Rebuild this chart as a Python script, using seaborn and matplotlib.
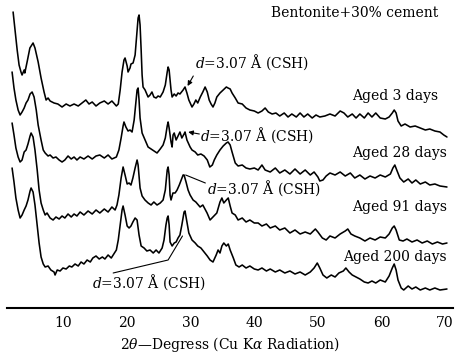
import matplotlib
matplotlib.use("Agg")
import matplotlib.pyplot as plt
import seaborn as sns
import pandas as pd

# ---- data: (2theta [deg], relative intensity [arb.]) ----
aged_3_days = [(2.06,93),(2.37,75),(2.7,55),(3.0,40),(3.3,33),(3.47,30),(3.8,35),(3.9,32),(4.26,43),(4.7,57),
 (5.2,62),(5.5,57),(6.0,43),(6.46,27),(6.93,13),(7.25,5),(7.56,7),(7.88,4),(8.5,2),(9.1,1),(9.76,-2),(10.4,1),
 (11.0,-1),(11.65,1),(12.3,-1),(12.9,2),(13.5,5),(14.0,1),(14.5,3),(15.1,-1),(15.7,2),(16.4,4),(17.0,1),(17.6,4),
 (18.3,-1),(18.6,1),(18.9,15),(19.2,33),(19.5,45),(19.67,47),(20.0,39),(20.14,33),(20.45,37),(20.6,41),(20.93,42),
 (21.25,50),(21.56,75),(21.72,87),(21.87,90),(22.03,80),(22.2,55),(22.35,30),(22.5,18),(22.82,15),(23.29,8),(23.6,10),
 (23.9,13),(24.2,8),(24.55,7),(24.86,9),(25.2,8),(25.65,13),(26.0,20),(26.3,33),(26.44,38),(26.6,35),(26.9,15),
 (27.07,8),(27.4,11),(27.7,9),(28.0,12),(28.3,11),(28.8,15),(29.1,18),(29.4,12),(29.7,5),(30.2,-2),(30.5,1),(30.8,5),
 (31.1,2),(31.5,8),(31.9,13),(32.26,18),(32.6,13),(32.9,5),(33.2,1),(33.5,-2),(33.8,2),(34.1,8),(34.6,12),(35.1,15),
 (35.6,18),(35.87,17),(36.2,16),(36.5,12),(37.0,7),(37.45,2),(38.1,1),(38.7,-3),(39.3,-5),(40.0,-6),(40.6,-8),
 (41.2,-6),(41.7,-3),(42.2,-7),(42.8,-9),(43.4,-8),(44.0,-11),(44.7,-8),(45.3,-12),(45.9,-9),(46.6,-12),(47.2,-8),
 (47.8,-12),(48.4,-9),(49.1,-13),(49.7,-10),(50.3,-12),(51.1,-11),(51.9,-9),(52.7,-11),(53.5,-6),(54.1,-8),(54.7,-12),
 (55.4,-9),(56.0,-13),(56.6,-9),(57.3,-13),(57.9,-8),(58.5,-12),(59.1,-8),(59.8,-13),(60.6,-14),(61.2,-12),(61.7,-8),
 (62.0,-5),(62.3,-8),(62.6,-16),(63.1,-21),(63.7,-19),(64.5,-22),(65.3,-21),(66.1,-23),(66.9,-25),(67.6,-24),
 (68.4,-26),(69.2,-27),(69.8,-30),(70.3,-32)]

aged_28_days = [(1.9,86),(2.2,70),(2.5,58),(2.85,48),(3.16,43),(3.47,46),(3.8,50),(4.1,55),(4.4,58),(4.73,64),
 (5.05,66),(5.36,61),(5.7,48),(6.0,33),(6.46,18),(6.8,8),(7.1,5),(7.56,2),(7.88,3),(8.35,0),(8.8,1),(9.3,-2),(9.76,-4),
 (10.2,-2),(10.7,2),(11.2,-1),(11.65,1),(12.1,-2),(12.6,1),(13.2,-1),(13.85,2),(14.5,-1),(15.1,2),(15.7,3),(16.4,0),
 (17.0,3),(17.6,-1),(18.3,1),(18.7,8),(19.05,20),(19.36,32),(19.5,36),(19.8,31),(20.14,27),(20.45,28),(20.77,26),
 (21.1,38),(21.4,58),(21.56,68),(21.72,70),(21.87,58),(22.03,40),(22.35,25),(22.82,18),(23.29,11),(23.76,9),(24.2,7),
 (24.7,5),(25.2,9),(25.65,13),(26.0,20),(26.3,32),(26.44,36),(26.6,30),(26.9,16),(27.07,11),(27.22,23),(27.4,25),
 (27.7,18),(28.0,22),(28.3,26),(28.6,20),(28.95,24),(29.1,26),(29.4,18),(29.9,11),(30.2,8),(30.7,6),(31.1,3),(31.6,4),
 (32.1,2),(32.6,-2),(33.0,-9),(33.4,-7),(33.7,-2),(34.1,3),(34.6,8),(35.1,12),(35.6,15),(35.87,16),(36.2,13),(36.5,6),
 (37.0,-5),(37.45,-8),(38.1,-7),(38.7,-10),(39.3,-11),(40.0,-10),(40.6,-12),(41.2,-7),(41.7,-12),(42.5,-14),
 (43.3,-10),(44.0,-15),(44.8,-12),(45.6,-16),(46.4,-11),(47.2,-16),(48.0,-12),(48.8,-17),(49.4,-14),(50.0,-19),
 (50.3,-23),(50.8,-22),(51.3,-18),(51.9,-15),(52.7,-17),(53.5,-14),(54.3,-18),(55.1,-15),(55.8,-20),(56.6,-17),
 (57.4,-21),(58.2,-18),(59.0,-20),(59.8,-17),(60.6,-19),(61.4,-16),(61.8,-10),(62.1,-7),(62.4,-12),(62.9,-20),
 (63.5,-24),(64.2,-21),(64.8,-25),(65.4,-22),(66.1,-26),(66.9,-24),(67.6,-27),(68.4,-26),(69.2,-28),(70.3,-29)]

aged_91_days = [(1.9,92),(2.2,80),(2.5,67),(2.85,58),(3.16,53),(3.47,55),(3.8,63),(4.1,65),(4.4,71),(4.73,79),
 (4.89,82),(5.2,78),(5.5,65),(5.85,45),(6.15,25),(6.46,12),(6.8,5),(7.1,0),(7.4,2),(7.88,-3),(8.35,-5),(8.8,-2),
 (9.3,-4),(9.76,-1),(10.2,-3),(10.7,1),(11.2,-2),(11.65,1),(12.1,-1),(12.6,3),(13.2,0),(13.85,4),(14.5,1),(15.1,5),
 (15.7,2),(16.4,6),(17.0,3),(17.6,8),(18.1,5),(18.4,10),(18.7,20),(19.05,37),(19.36,48),(19.67,40),(20.0,31),
 (20.3,32),(20.6,30),(20.9,37),(21.25,47),(21.56,55),(21.72,50),(22.03,27),(22.35,19),(22.8,15),(23.3,12),(23.76,10),
 (24.2,13),(24.7,10),(25.2,12),(25.65,15),(26.0,25),(26.3,45),(26.44,48),(26.6,40),(26.75,20),(26.9,15),(27.2,22),
 (27.54,22),(27.85,25),(28.2,30),(28.5,35),(28.8,40),(28.95,40),(29.26,33),(29.58,25),(29.9,20),(30.37,15),(30.8,13),
 (31.47,8),(31.9,10),(32.57,2),(33.04,-5),(33.5,-2),(34.1,2),(34.6,13),(34.9,17),(35.2,12),(35.6,15),(35.9,17),
 (36.2,9),(36.5,2),(37.0,0),(37.45,-5),(38.1,-3),(38.7,-7),(39.3,-5),(40.0,-8),(40.6,-8),(41.2,-11),(41.9,-9),
 (42.5,-13),(43.3,-11),(44.0,-15),(44.8,-13),(45.6,-18),(46.4,-15),(47.2,-19),(48.0,-17),(48.8,-19),(49.6,-14),
 (50.0,-17),(50.7,-23),(51.3,-25),(51.9,-21),(52.7,-23),(53.5,-19),(54.3,-16),(54.7,-14),(55.2,-19),(55.8,-21),
 (56.6,-23),(57.4,-26),(58.2,-23),(59.0,-25),(59.8,-22),(60.6,-23),(61.2,-19),(61.7,-13),(62.0,-11),(62.3,-15),
 (62.8,-25),(63.4,-26),(64.0,-24),(64.8,-27),(65.6,-25),(66.4,-28),(67.2,-26),(68.0,-29),(68.8,-27),(69.6,-29),
 (70.3,-28)]

aged_200_days = [(1.9,100),(2.2,86),(2.5,70),(2.85,58),(3.16,50),(3.47,53),(3.8,58),(4.1,62),(4.4,68),(4.73,77),
 (4.89,80),(5.2,76),(5.5,63),(5.85,43),(6.15,25),(6.46,11),(6.8,4),(7.1,1),(7.56,2),(8.0,-2),(8.5,-4),(8.66,-7),
 (9.0,-2),(9.45,-3),(9.9,0),(10.4,-1),(10.9,2),(11.3,1),(11.8,4),(12.3,2),(12.75,6),(13.2,4),(13.7,8),(14.2,6),
 (14.6,10),(15.1,12),(15.6,9),(16.1,11),(16.5,9),(17.0,13),(17.5,10),(17.9,14),(18.3,18),(18.6,28),(18.9,43),
 (19.2,58),(19.36,62),(19.67,53),(20.0,42),(20.3,40),(20.6,42),(20.9,46),(21.25,50),(21.56,48),(21.87,33),(22.2,22),
 (22.66,20),(23.1,17),(23.6,18),(24.1,15),(24.55,18),(25.0,15),(25.5,20),(25.8,28),(26.1,43),(26.3,50),(26.44,52),
 (26.6,43),(26.75,26),(27.07,22),(27.4,25),(27.7,26),(28.0,30),(28.3,33),(28.6,43),(28.95,56),(29.1,57),(29.4,46),
 (29.7,35),(30.2,28),(30.7,25),(31.1,22),(31.6,20),(32.1,16),(32.6,12),(33.04,8),(33.5,6),(34.0,13),(34.3,18),
 (34.6,15),(34.9,22),(35.2,25),(35.6,22),(35.9,24),(36.2,18),(36.7,10),(37.1,3),(37.6,1),(38.1,3),(38.7,0),(39.3,2),
 (40.0,-1),(40.6,-2),(41.2,0),(41.9,-3),(42.5,-1),(43.3,-4),(44.0,-2),(44.8,-5),(45.6,-3),(46.4,-6),(47.2,-4),
 (48.0,-7),(48.8,-4),(49.4,0),(49.9,5),(50.3,0),(50.8,-7),(51.4,-10),(52.1,-7),(52.7,-9),(53.3,-5),(54.0,-3),
 (54.4,0),(54.9,-4),(55.4,-7),(56.0,-9),(56.6,-11),(57.3,-14),(57.9,-15),(58.5,-13),(59.1,-15),(59.8,-12),(60.6,-14),
 (61.2,-8),(61.7,0),(62.0,4),(62.3,-2),(62.6,-12),(63.1,-20),(63.5,-22),(64.2,-18),(64.8,-21),(65.4,-19),(66.1,-22),
 (66.9,-20),(67.6,-22),(68.4,-20),(69.2,-22),(70.3,-21)]

series_names = ["Aged 3 days", "Aged 28 days", "Aged 91 days", "Aged 200 days"]
x_ticks = [10, 20, 30, 40, 50, 60, 70]
csh_label = "$d$=3.07 Å (CSH)"

# ---- build long table ----
offsets = [203, 150, 93, 40]
frames = []
for name, pts, off in zip(series_names, [aged_3_days, aged_28_days, aged_91_days, aged_200_days], offsets):
    df = pd.DataFrame(pts, columns=["two_theta", "intensity"])
    df["shifted"] = df["intensity"] + off
    df["sample"] = name
    frames.append(df)
data = pd.concat(frames, ignore_index=True)

sns.set_style("white")
plt.rcParams["font.family"] = ["DejaVu Serif"]
plt.rcParams["mathtext.fontset"] = "dejavuserif"
plt.rcParams["text.color"] = "black"
plt.rcParams["axes.labelcolor"] = "black"
plt.rcParams["xtick.color"] = "black"

fig = plt.figure(figsize=(4.55, 3.54), dpi=100)
ax = fig.add_axes([7/455, 46/354, 446/455, 303/354])

sns.lineplot(data=data, x="two_theta", y="shifted", units="sample", estimator=None,
             color="black", linewidth=1.15, ax=ax, legend=False, sort=False)

ax.set_xlim(1.1, 71.25)
ax.set_ylim(0, 303)
ax.set_yticks([])
ax.set_ylabel("")
for s in ["left", "right", "top"]:
    ax.spines[s].set_visible(False)
ax.spines["bottom"].set_linewidth(1.5)
ax.spines["bottom"].set_color("black")
ax.set_xticks(x_ticks)
ax.set_xticklabels([str(t) for t in x_ticks], fontsize=10, color="black")
ax.set_xticks(range(2, 71), minor=True)
ax.tick_params(axis="x", which="major", direction="in", length=3, width=1, pad=6, colors="black")
ax.tick_params(axis="x", which="minor", direction="in", length=2, width=0.8, colors="black")
ax.set_xlabel(r"2$\theta$—Degress (Cu K$\alpha$ Radiation)", fontsize=10, labelpad=3, color="black")

# ---- text labels ----
ax.text(68.9, 295, "Bentonite+30% cement", ha="right", va="center", fontsize=10, color="black")
label_pos = [(68.9, 212), (70.3, 155), (70.3, 101), (70.3, 51)]
for name, (lx, ly) in zip(series_names, label_pos):
    ax.text(lx, ly, name, ha="right", va="center", fontsize=10, color="black")

arrow = dict(arrowstyle="-|>", color="black", lw=0.8, mutation_scale=7, shrinkA=0, shrinkB=0)
ax.text(30.7, 246, csh_label, ha="left", va="center", fontsize=10, color="black")
ax.annotate("", xy=(29.5, 222), xytext=(30.4, 232), arrowprops=arrow)
ax.text(31.5, 173, csh_label, ha="left", va="center", fontsize=10, color="black")
ax.annotate("", xy=(29.6, 176), xytext=(31.35, 174), arrowprops=arrow)
ax.text(32.6, 120, csh_label, ha="left", va="center", fontsize=10, color="black")
ax.plot([29.2, 32.3], [133, 125], color="black", lw=0.8)
ax.text(14.5, 26, csh_label, ha="left", va="center", fontsize=10, color="black")
ax.plot([17.8, 26.44, 28.7], [35, 48, 72], color="black", lw=0.8)

fig.savefig("out.png", dpi=100)
